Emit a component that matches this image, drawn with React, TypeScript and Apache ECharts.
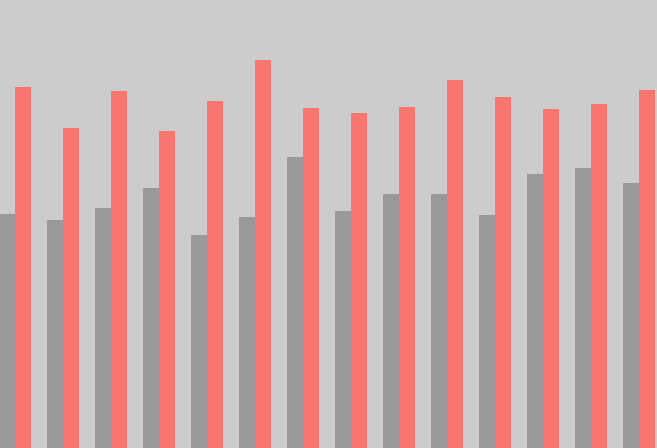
import { useEffect, useRef } from "react";
import * as echarts from "echarts";

const categories = ["1", "2", "3", "4", "5", "6", "7", "8", "9", "10", "11", "12", "13", "14"];
const greyValues = [234, 228, 240, 260, 213, 231, 291, 237, 254, 254, 233, 274, 280, 265];
const redValues = [361, 320, 357, 317, 347, 388, 340, 335, 341, 368, 351, 339, 344, 358];

const App = () => {
  const chartRef = useRef<HTMLDivElement>(null);

  useEffect(() => {
    if (!chartRef.current) return;
    const chart = echarts.init(chartRef.current, undefined, { renderer: "svg" });

    chart.setOption({
      animation: false,
      backgroundColor: "#cccccc",
      grid: { left: 0, right: 0, top: 0, bottom: 0 },
      xAxis: {
        type: "category",
        data: categories,
        show: false,
      },
      yAxis: {
        type: "value",
        min: 0,
        max: 448,
        show: false,
      },
      series: [
        {
          name: "grey",
          type: "bar",
          data: greyValues,
          barWidth: 16,
          barGap: "0%",
          itemStyle: { color: "#999999" },
        },
        {
          name: "red",
          type: "bar",
          data: redValues,
          barWidth: 16,
          itemStyle: { color: "#f8766d" },
        },
      ],
    });

    return () => chart.dispose();
  }, []);

  return (
    <div style={{ position: "fixed", left: 0, top: 0, width: "657px", height: "448px", overflow: "hidden", background: "#cccccc" }}>
      <div
        ref={chartRef}
        style={{ position: "absolute", left: "-9px", top: 0, width: "672px", height: "448px" }}
      />
    </div>
  );
};

export default App;
